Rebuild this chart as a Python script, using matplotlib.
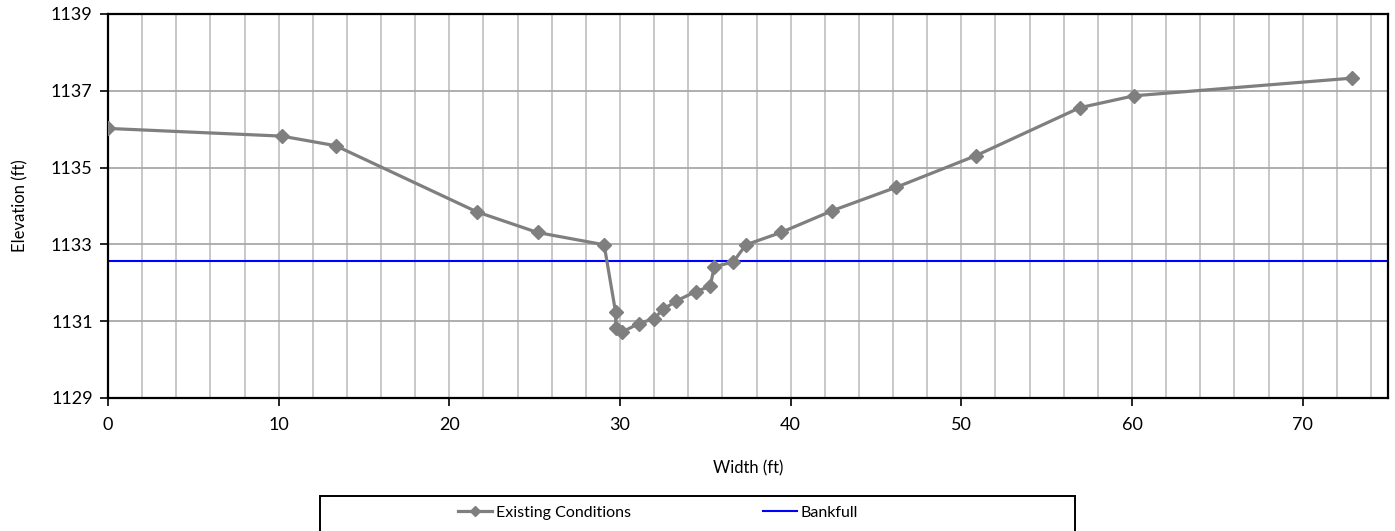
import matplotlib
matplotlib.use("Agg")
import matplotlib.pyplot as plt
from matplotlib.patches import Rectangle
from matplotlib.ticker import MultipleLocator

# Cross-section survey: station (ft) and elevation (ft)
width_ft = [0.0, 10.18, 13.34, 21.6, 25.17, 29.07, 29.74, 29.76, 30.13, 31.11,
            32.0, 32.53, 33.31, 34.43, 35.29, 35.52, 36.63, 37.38, 39.43, 42.45,
            46.2, 50.85, 56.94, 60.12, 72.9]
elevation_ft = [1136.02, 1135.82, 1135.57, 1133.85, 1133.31, 1132.99, 1131.24, 1130.82,
                1130.72, 1130.94, 1131.07, 1131.31, 1131.53, 1131.77, 1131.91, 1132.42,
                1132.54, 1132.99, 1133.31, 1133.88, 1134.49, 1135.31, 1136.56, 1136.87,
                1137.33]
bankfull_elev = 1132.56

x_ticks = [0, 10, 20, 30, 40, 50, 60, 70]
y_ticks = [1129, 1131, 1133, 1135, 1137, 1139]
series_labels = ["Existing Conditions", "Bankfull"]

plt.rcParams['font.family'] = ['Lato', 'DejaVu Sans']

W, H = 1395, 531
fig = plt.figure(figsize=(W / 100, H / 100), dpi=100)
ax = fig.add_axes([108 / W, 1 - 398 / H, (1388 - 108) / W, (398 - 14) / H])

ax.set_xlim(0, 75)
ax.set_ylim(1129, 1139)
ax.set_xticks(x_ticks)
ax.set_yticks(y_ticks)
ax.xaxis.set_minor_locator(MultipleLocator(2))

ax.grid(which='both', axis='x', color='#c4c4c4', linewidth=1.3)
ax.grid(which='major', axis='y', color='#a8a8a8', linewidth=1.3)
ax.set_axisbelow(True)

ln_exist, = ax.plot(width_ft, elevation_ft, color='#7f7f7f', linewidth=2.3,
                    marker='D', markersize=7, markerfacecolor='#7f7f7f',
                    markeredgecolor='#7f7f7f', zorder=3)
ln_bank = ax.axhline(bankfull_elev, color='#0000ff', linewidth=1.5, zorder=2)

for s in ax.spines.values():
    s.set_color('black')
    s.set_linewidth(1.6)

ax.tick_params(axis='both', which='major', labelsize=13, colors='black',
               direction='out', length=6, width=1.2)
ax.tick_params(axis='x', which='minor', length=0)
ax.tick_params(axis='x', pad=8)
ax.tick_params(axis='y', pad=5)

ax.set_xlabel("Width (ft)", fontsize=12, labelpad=19)
ax.set_ylabel("Elevation (ft)", fontsize=12, labelpad=16)

# Legend frame
fig.patches.append(Rectangle((320 / W, -0.02), (1075 - 320) / W, 1 - 495.5 / H + 0.02,
                             transform=fig.transFigure, fill=False,
                             edgecolor='black', linewidth=1.4))
fig.legend([ln_exist, ln_bank], series_labels, loc='center left',
           bbox_to_anchor=(458 / W, 1 - 513 / H), ncol=2, frameon=False,
           fontsize=11.5, handlelength=2.1, handletextpad=0.25,
           columnspacing=8.3, borderpad=0, borderaxespad=0, markerscale=0.75)

fig.savefig("out.png", dpi=100)
